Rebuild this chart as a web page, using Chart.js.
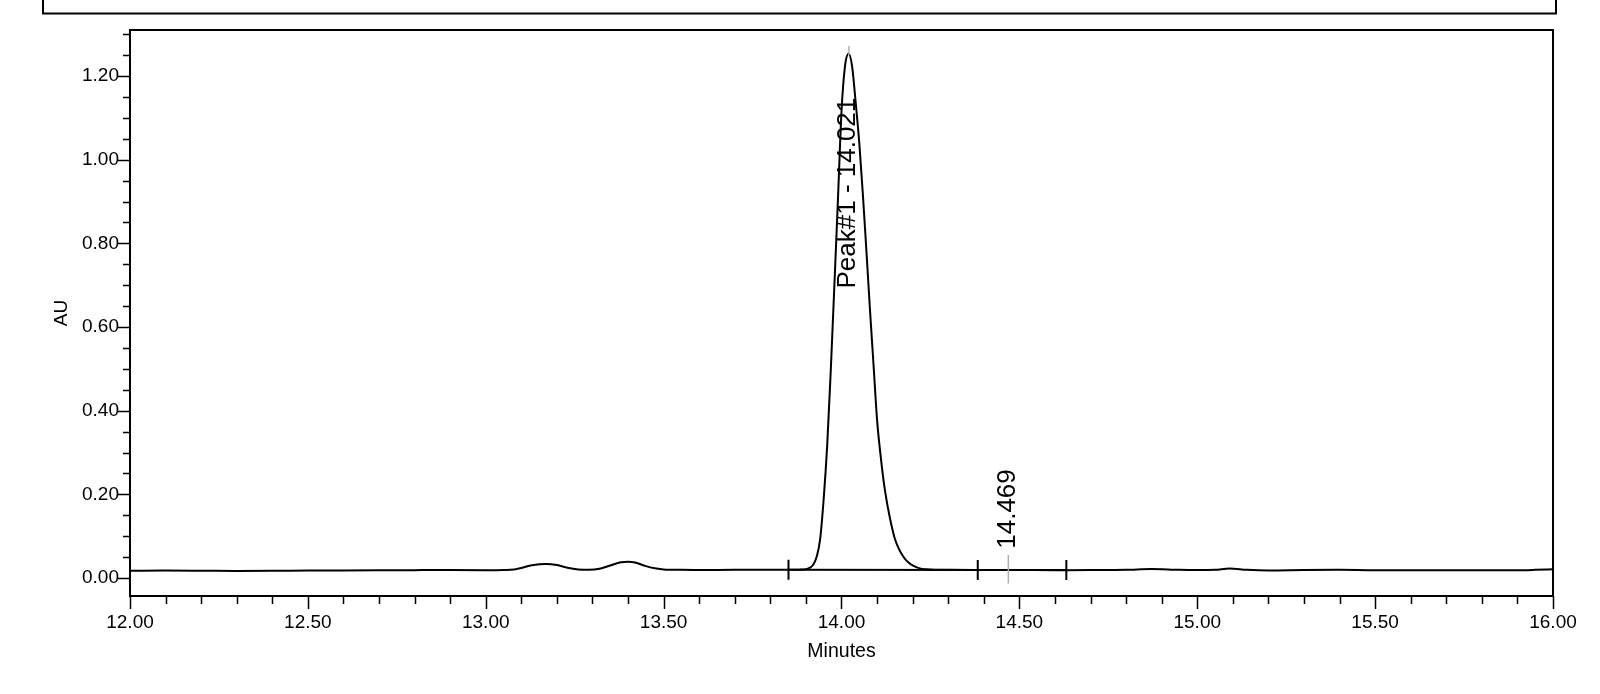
<!DOCTYPE html>
<html>
<head>
<meta charset="utf-8">
<script src="https://cdn.jsdelivr.net/npm/chart.js@4.4.1/dist/chart.umd.min.js"></script>
<style>
  html, body { margin: 0; padding: 0; background: #fff; }
  canvas { display: block; }
</style>
</head>
<body>
<canvas id="chrom" width="1600" height="694"></canvas>
<script>
// trace (minutes, AU)
var minutes = [12.00, 12.10, 12.20, 12.30, 12.40, 12.50, 12.60, 12.70, 12.80, 12.85, 12.90, 13.00,
    13.05, 13.08, 13.10, 13.13, 13.17, 13.20, 13.23, 13.26, 13.29, 13.32, 13.35, 13.38, 13.40,
    13.42, 13.45, 13.48, 13.50, 13.55, 13.60, 13.70, 13.80, 13.85, 13.88, 13.90, 13.91, 13.92,
    13.93, 13.94, 13.95, 13.96, 13.97, 13.98, 13.99, 14.00, 14.01, 14.02, 14.03, 14.04, 14.05,
    14.06, 14.07, 14.08, 14.09, 14.10, 14.11, 14.12, 14.13, 14.14, 14.15, 14.16, 14.17, 14.18,
    14.19, 14.20, 14.21, 14.22, 14.24, 14.30, 14.40, 14.50, 14.60, 14.70, 14.80, 14.87, 14.95,
    15.00, 15.05, 15.09, 15.14, 15.20, 15.30, 15.40, 15.50, 15.60, 15.70, 15.80, 15.90, 15.95, 16.00];
var au = [0.0175, 0.0178, 0.0175, 0.0170, 0.0172, 0.0178, 0.0180, 0.0183, 0.0187, 0.0192, 0.0190, 0.0188,
    0.0192, 0.0205, 0.0240, 0.0305, 0.0335, 0.0310, 0.0245, 0.0205, 0.0195, 0.0220, 0.0300, 0.0375, 0.0390,
    0.0370, 0.0285, 0.0225, 0.0205, 0.0195, 0.0193, 0.0195, 0.0195, 0.0195, 0.0200, 0.0210, 0.0240, 0.0310,
    0.050, 0.093, 0.190, 0.320, 0.500, 0.700, 0.905, 1.115, 1.225, 1.253, 1.222, 1.135, 1.040,
    0.918, 0.782, 0.642, 0.510, 0.378, 0.292, 0.222, 0.170, 0.128, 0.094, 0.072, 0.056, 0.044,
    0.036, 0.030, 0.026, 0.023, 0.021, 0.0195, 0.0192, 0.0190, 0.0188, 0.0190, 0.0195, 0.0215, 0.0195,
    0.0190, 0.0195, 0.0225, 0.0195, 0.0180, 0.0190, 0.0195, 0.0185, 0.0185, 0.0185, 0.0183, 0.0185, 0.0195, 0.0210];

// integration baseline and its start / valley / end marks
var baseMarkX = [13.851, 14.383, 14.632];
var baseMarkY = [0.0195, 0.0192, 0.0189];

// retention time labels
var peakTimes = [14.021, 14.469];
var peakLabels = ['Peak#1 - 14.021', '14.469'];
var labelAt = [0.692, 0.070];
var markLines = [[1.250, 1.272], [-0.013, 0.055]];

var xTicks = [12.00, 12.50, 13.00, 13.50, 14.00, 14.50, 15.00, 15.50, 16.00];
var yTicks = [0.00, 0.20, 0.40, 0.60, 0.80, 1.00, 1.20];

var FONT = "'Liberation Sans', Arial, sans-serif";

var decorPlugin = {
    id: 'decor',
    afterDatasetsDraw: function(chart) {
        var ctx = chart.ctx;
        var xs = chart.scales.x, ys = chart.scales.y;
        var a = chart.chartArea;
        ctx.save();
        ctx.strokeStyle = '#000';

        // header box, cut off at the top
        ctx.lineWidth = 2;
        ctx.strokeRect(43, -4, 1513, 17.5);

        // plot frame
        ctx.strokeRect(a.left, a.top, a.right - a.left, a.bottom - a.top);

        // y tick marks
        ctx.lineWidth = 1.5;
        ctx.beginPath();
        for (var v = 0.05; v <= 1.3001; v += 0.05) {
            var yy = Math.round(ys.getPixelForValue(v)) + 0.5;
            var major = Math.abs(v / 0.2 - Math.round(v / 0.2)) < 0.001;
            ctx.moveTo(a.left, yy);
            ctx.lineTo(a.left - (major ? 12 : 7), yy);
        }
        ctx.moveTo(a.left, Math.round(ys.getPixelForValue(0)) + 0.5);
        ctx.lineTo(a.left - 12, Math.round(ys.getPixelForValue(0)) + 0.5);
        // x tick marks
        for (var t = 12.0; t <= 16.0001; t += 0.1) {
            var xx = Math.round(xs.getPixelForValue(t)) + 0.5;
            var majorX = Math.abs(t / 0.5 - Math.round(t / 0.5)) < 0.001;
            ctx.moveTo(xx, a.bottom);
            ctx.lineTo(xx, a.bottom + (majorX ? 13 : 8));
        }
        ctx.stroke();

        // integration marks
        ctx.lineWidth = 2;
        ctx.beginPath();
        baseMarkX.forEach(function(m, i) {
            var px = xs.getPixelForValue(m);
            var py = ys.getPixelForValue(baseMarkY[i]);
            ctx.moveTo(px, py - 10);
            ctx.lineTo(px, py + 10);
        });
        ctx.stroke();

        // retention marker lines + labels
        ctx.strokeStyle = '#b0b0b0';
        ctx.lineWidth = 1.5;
        ctx.beginPath();
        peakTimes.forEach(function(rt, i) {
            var px = xs.getPixelForValue(rt);
            ctx.moveTo(px, ys.getPixelForValue(markLines[i][0]));
            ctx.lineTo(px, ys.getPixelForValue(markLines[i][1]));
        });
        ctx.stroke();

        ctx.fillStyle = '#000';
        ctx.font = '26px ' + FONT;
        ctx.textAlign = 'left';
        ctx.textBaseline = 'middle';
        peakTimes.forEach(function(rt, i) {
            var px = xs.getPixelForValue(rt);
            var py = ys.getPixelForValue(labelAt[i]);
            ctx.save();
            ctx.translate(px - 1, py);
            ctx.rotate(-Math.PI / 2);
            ctx.fillText(peakLabels[i], 0, 0);
            ctx.restore();
        });
        ctx.restore();
    }
};

var chromCtx = document.getElementById('chrom').getContext('2d');
var chromChart = new Chart(chromCtx, {
    type: 'line',
    data: {
        datasets: [{
            data: minutes.map(function(m, i) { return {x: m, y: au[i]}; }),
            borderColor: '#000',
            borderWidth: 2,
            pointRadius: 0,
            cubicInterpolationMode: 'monotone',
            fill: false
        }, {
            data: baseMarkX.map(function(m, i) { return {x: m, y: baseMarkY[i]}; }),
            borderColor: '#000',
            borderWidth: 2,
            pointRadius: 0,
            tension: 0,
            fill: false
        }]
    },
    options: {
        responsive: false,
        animation: false,
        devicePixelRatio: 1,
        layout: { padding: { top: 30, right: 47, left: 0, bottom: 0 } },
        plugins: { legend: { display: false }, tooltip: { enabled: false } },
        scales: {
            x: {
                type: 'linear',
                min: 12,
                max: 16,
                grid: { display: false, drawTicks: false },
                border: { display: false },
                afterFit: function(scale) { scale.height = 98; },
                afterBuildTicks: function(scale) {
                    scale.ticks = xTicks.map(function(v) { return {value: v}; });
                },
                ticks: {
                    color: '#000',
                    padding: 15,
                    maxRotation: 0,
                    autoSkip: false,
                    font: { family: FONT, size: 19 },
                    callback: function(v) { return Number(v).toFixed(2); }
                },
                title: {
                    display: true,
                    text: 'Minutes',
                    color: '#000',
                    font: { family: FONT, size: 19.5 },
                    padding: { top: 0, bottom: 31 }
                }
            },
            y: {
                type: 'linear',
                min: -0.043,
                max: 1.31,
                grid: { display: false, drawTicks: false },
                border: { display: false },
                afterFit: function(scale) { scale.width = 130; },
                afterBuildTicks: function(scale) {
                    scale.ticks = yTicks.map(function(v) { return {value: v}; });
                },
                ticks: {
                    color: '#000',
                    padding: 11,
                    autoSkip: false,
                    font: { family: FONT, size: 19 },
                    callback: function(v) { return Number(v).toFixed(2); }
                },
                title: {
                    display: true,
                    text: 'AU',
                    color: '#000',
                    font: { family: FONT, size: 19 },
                    padding: { top: 50, bottom: 0 }
                }
            }
        }
    },
    plugins: [decorPlugin]
});
</script>
</body>
</html>
